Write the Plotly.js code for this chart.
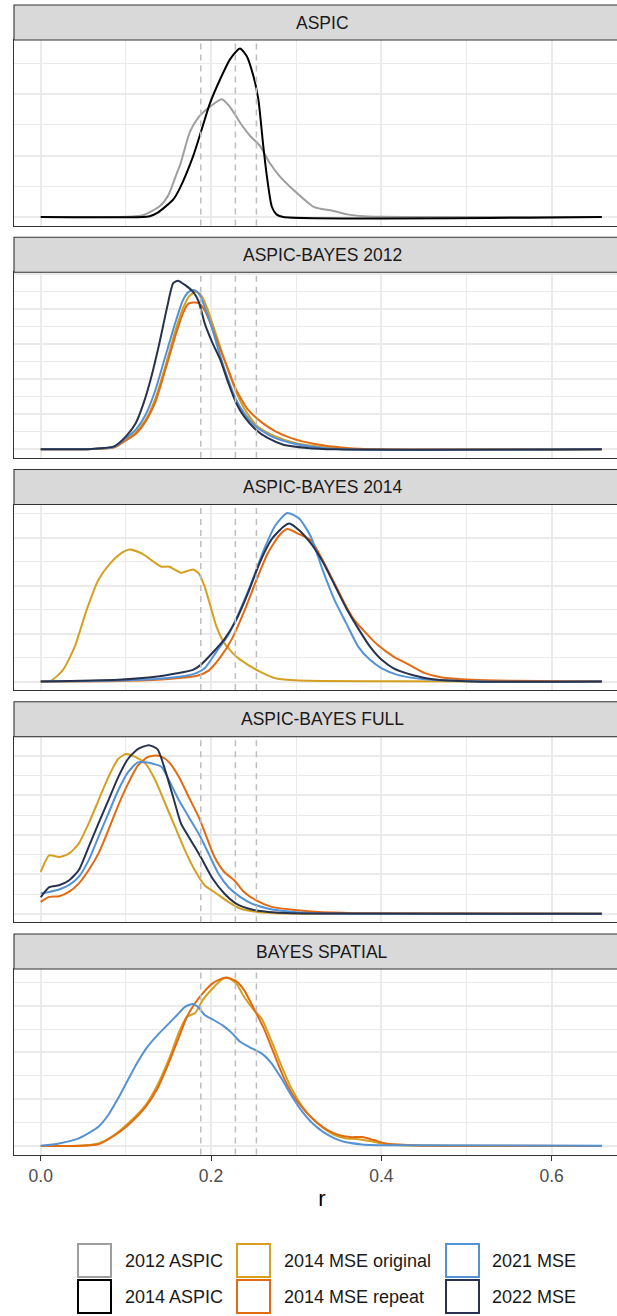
<!DOCTYPE html>
<html><head><meta charset="utf-8">
<script src="https://cdn.plot.ly/plotly-3.0.1.min.js"></script>
<style>html,body{margin:0;padding:0;overflow:hidden;background:#fff}#chart{width:640px;height:1316px}</style>
</head><body><div id="chart"></div>
<script>
// ---------- data ----------
const PANELS = ['ASPIC', 'ASPIC-BAYES 2012', 'ASPIC-BAYES 2014', 'ASPIC-BAYES FULL', 'BAYES SPATIAL'];
const SERIES = ['2012 ASPIC', '2014 ASPIC', '2014 MSE original', '2014 MSE repeat', '2021 MSE', '2022 MSE'];
const COLORS = ['#9E9E9E', '#000000', '#D5A021', '#E26A12', '#5492D6', '#27324F'];
const REF_LINES = [0.188, 0.2286, 0.2533];
const X_TITLE = 'r';

// Panel 1: ASPIC
const P1_ASPIC2012_R = [0, 0.10, 0.12, 0.14, 0.15, 0.16, 0.164, 0.175, 0.185, 0.199, 0.2125, 0.222, 0.234, 0.246, 0.2575, 0.269, 0.281, 0.297, 0.31, 0.32, 0.33, 0.34, 0.35, 0.36, 0.38, 0.40, 0.45, 0.659];
const P1_ASPIC2012_D = [0, 0.02, 0.15, 0.9, 1.8, 3.6, 4.3, 6.9, 8.1, 9.0, 9.6, 9.0, 7.7, 6.6, 5.8, 4.4, 3.3, 2.2, 1.4, 0.85, 0.65, 0.55, 0.4, 0.22, 0.07, 0.02, 0, 0];
const P1_ASPIC2014_R = [0, 0.12, 0.128, 0.137, 0.1556, 0.1636, 0.179, 0.189, 0.199, 0.2106, 0.2223, 0.234, 0.242, 0.2497, 0.2556, 0.2614, 0.2661, 0.2713, 0.2772, 0.285, 0.659];
const P1_ASPIC2014_D = [0, 0, 0.07, 0.34, 1.43, 2.38, 4.96, 7.13, 9.31, 11.2, 12.84, 13.73, 13.1, 11.5, 9.58, 5.77, 3.06, 0.88, 0.2, 0, 0];

// Panel 2: ASPIC-BAYES 2012
const P2_ORIG_R = [0, 0.06, 0.0862, 0.1001, 0.1117, 0.1232, 0.1348, 0.1463, 0.1579, 0.1671, 0.1740, 0.1819, 0.1879, 0.1948, 0.2041, 0.2133, 0.2226, 0.2318, 0.2410, 0.2549, 0.2757, 0.2988, 0.3312, 0.3682, 0.659];
const P2_ORIG_D = [0, 0.02, 0.15, 0.69, 1.2, 2.1, 3.65, 5.9, 8.4, 10.04, 10.87, 11.22, 11.0, 10.16, 8.5, 6.84, 5.19, 3.77, 2.7, 1.63, 0.92, 0.45, 0.16, 0, 0];
const P2_REP_R = [0, 0.06, 0.0862, 0.1001, 0.1117, 0.1232, 0.1348, 0.1463, 0.1579, 0.1671, 0.1731, 0.1787, 0.1856, 0.1925, 0.2018, 0.2110, 0.2203, 0.2295, 0.2434, 0.2595, 0.2757, 0.2942, 0.3219, 0.3589, 0.3959, 0.659];
const P2_REP_D = [0, 0.02, 0.14, 0.64, 1.11, 1.99, 3.4, 5.66, 8.03, 9.69, 10.35, 10.44, 10.4, 9.9, 8.6, 7.08, 5.66, 4.24, 2.82, 1.92, 1.28, 0.8, 0.38, 0.1, 0, 0];
const P2_MSE2021_R = [0, 0.06, 0.0862, 0.1001, 0.1117, 0.1232, 0.1348, 0.1463, 0.1579, 0.1671, 0.1740, 0.1800, 0.1856, 0.1925, 0.2018, 0.2110, 0.2203, 0.2295, 0.2388, 0.2526, 0.2711, 0.2942, 0.3219, 0.3543, 0.659];
const P2_MSE2021_D = [0, 0.02, 0.18, 0.8, 1.4, 2.46, 4.24, 6.6, 8.98, 10.63, 11.22, 11.34, 11.1, 10.16, 8.5, 6.6, 4.95, 3.53, 2.58, 1.63, 0.92, 0.45, 0.16, 0, 0];
const P2_MSE2022_R = [0, 0.06, 0.0862, 0.1001, 0.1117, 0.1209, 0.1301, 0.1394, 0.1486, 0.1556, 0.1611, 0.1694, 0.1787, 0.1856, 0.1925, 0.2018, 0.2110, 0.2203, 0.2295, 0.2388, 0.2526, 0.2665, 0.2850, 0.3127, 0.3451, 0.659];
const P2_MSE2022_D = [0, 0.03, 0.21, 0.92, 1.87, 3.3, 5.2, 7.56, 10.16, 11.82, 12.0, 11.7, 11.22, 10.5, 8.98, 7.56, 6.37, 4.72, 3.3, 2.34, 1.4, 0.81, 0.33, 0.1, 0, 0];

// Panel 3: ASPIC-BAYES 2014
const P3_ORIG_R = [0, 0.0123, 0.0262, 0.0400, 0.0539, 0.0677, 0.0816, 0.0955, 0.1047, 0.1186, 0.1325, 0.1417, 0.1509, 0.1648, 0.1787, 0.1856, 0.1925, 0.1995, 0.2064, 0.2156, 0.2295, 0.2434, 0.2573, 0.2757, 0.3035, 0.4144, 0.659];
const P3_ORIG_D = [0, 0.05, 0.61, 1.82, 3.73, 5.29, 6.15, 6.71, 6.88, 6.67, 6.24, 5.98, 5.98, 5.67, 5.84, 5.63, 4.94, 3.9, 2.86, 2.0, 1.3, 0.87, 0.52, 0.17, 0.05, 0.02, 0];
const P3_REP_R = [0, 0.0909, 0.1463, 0.1833, 0.1972, 0.2110, 0.2249, 0.2388, 0.2526, 0.2665, 0.2803, 0.2896, 0.3035, 0.3173, 0.3312, 0.3451, 0.3589, 0.3682, 0.3820, 0.3959, 0.4144, 0.4329, 0.4513, 0.4698, 0.5068, 0.5530, 0.659];
const P3_REP_D = [0, 0.03, 0.12, 0.30, 0.57, 1.27, 2.25, 3.64, 5.2, 6.67, 7.62, 7.94, 7.68, 7.36, 6.32, 5.11, 3.9, 3.21, 2.52, 1.9, 1.3, 0.87, 0.44, 0.23, 0.09, 0.04, 0];
const P3_MSE2021_R = [0, 0.0909, 0.1463, 0.1740, 0.1833, 0.1925, 0.2064, 0.2203, 0.2342, 0.2480, 0.2619, 0.2757, 0.2896, 0.3035, 0.3173, 0.3312, 0.3451, 0.3589, 0.3728, 0.3867, 0.4005, 0.4190, 0.4513, 0.52, 0.659];
const P3_MSE2021_D = [0, 0.05, 0.17, 0.33, 0.45, 0.69, 1.56, 2.43, 3.73, 5.2, 6.84, 8.14, 8.78, 8.49, 7.54, 5.8, 4.24, 3.03, 1.82, 1.13, 0.69, 0.35, 0.12, 0, 0];
const P3_MSE2022_R = [0, 0.0909, 0.1371, 0.1602, 0.1787, 0.1879, 0.2018, 0.2156, 0.2295, 0.2434, 0.2573, 0.2711, 0.2850, 0.2919, 0.3035, 0.3173, 0.3312, 0.3451, 0.3589, 0.3728, 0.3867, 0.4005, 0.4144, 0.4375, 0.4606, 0.5068, 0.659];
const P3_MSE2022_D = [0, 0.09, 0.26, 0.43, 0.61, 0.87, 1.5, 2.2, 3.2, 4.6, 6.2, 7.4, 8.06, 8.23, 7.88, 7.19, 6.24, 5.03, 3.82, 2.77, 1.82, 1.13, 0.69, 0.33, 0.12, 0, 0];

// Panel 4: ASPIC-BAYES FULL
const P4_ORIG_R = [0, 0.0100, 0.0215, 0.0331, 0.0446, 0.0562, 0.0677, 0.0793, 0.0909, 0.1001, 0.1117, 0.1232, 0.1348, 0.1463, 0.1579, 0.1694, 0.1810, 0.1925, 0.2064, 0.2203, 0.2342, 0.2526, 0.2757, 0.35, 0.659];
const P4_ORIG_D = [2.12, 2.96, 2.88, 3.05, 3.56, 4.57, 5.74, 6.92, 7.85, 8.1, 7.94, 7.6, 6.75, 5.58, 4.39, 3.22, 2.21, 1.45, 1.03, 0.61, 0.27, 0.1, 0.03, 0, 0];
const P4_REP_R = [0, 0.0100, 0.0215, 0.0331, 0.0446, 0.0562, 0.0677, 0.0793, 0.0909, 0.1024, 0.1140, 0.1255, 0.1325, 0.1417, 0.1509, 0.1625, 0.1740, 0.1856, 0.1948, 0.2041, 0.2156, 0.2272, 0.2388, 0.2526, 0.2711, 0.2988, 0.3219, 0.3682, 0.659];
const P4_REP_D = [0.61, 0.86, 0.89, 1.11, 1.53, 2.21, 3.05, 4.23, 5.49, 6.59, 7.51, 7.94, 8.02, 7.97, 7.68, 6.92, 5.91, 4.9, 3.89, 2.88, 2.12, 1.7, 1.11, 0.69, 0.35, 0.19, 0.1, 0.03, 0];
const P4_MSE2021_R = [0, 0.0100, 0.0215, 0.0331, 0.0446, 0.0562, 0.0677, 0.0793, 0.0909, 0.1024, 0.1140, 0.1232, 0.1325, 0.1417, 0.1509, 0.1625, 0.1740, 0.1856, 0.1972, 0.2087, 0.2203, 0.2342, 0.2480, 0.2665, 0.2942, 0.3219, 0.659];
const P4_MSE2021_D = [1.03, 1.11, 1.23, 1.45, 1.87, 2.71, 3.89, 5.07, 6.25, 7.17, 7.68, 7.68, 7.6, 7.46, 6.75, 5.74, 4.9, 4.06, 3.05, 2.04, 1.36, 0.86, 0.52, 0.27, 0.1, 0.03, 0];
const P4_MSE2022_R = [0, 0.0100, 0.0215, 0.0331, 0.0446, 0.0562, 0.0677, 0.0793, 0.0909, 0.1024, 0.1140, 0.1269, 0.1371, 0.1463, 0.1556, 0.1648, 0.1764, 0.1879, 0.2018, 0.2156, 0.2295, 0.2480, 0.2757, 0.33, 0.659];
const P4_MSE2022_D = [0.84, 1.35, 1.45, 1.69, 2.21, 3.38, 4.57, 5.74, 6.92, 7.85, 8.35, 8.55, 8.35, 7.26, 5.91, 4.57, 3.72, 2.88, 1.79, 1.03, 0.52, 0.22, 0.07, 0.01, 0];

// Panel 5: BAYES SPATIAL
const P5_ORIG_R = [0, 0.0446, 0.0677, 0.0862, 0.1047, 0.1232, 0.1371, 0.1509, 0.1625, 0.1717, 0.1810, 0.1902, 0.2018, 0.2133, 0.2203, 0.2295, 0.2388, 0.2503, 0.2596, 0.2711, 0.2826, 0.2942, 0.3058, 0.3173, 0.3312, 0.3451, 0.3589, 0.3728, 0.3867, 0.4005, 0.4236, 0.659];
const P5_ORIG_D = [0, 0.02, 0.14, 0.59, 1.3, 2.19, 3.26, 4.68, 6.1, 6.91, 7.09, 7.8, 8.42, 8.92, 8.99, 8.69, 7.98, 7.27, 6.8, 5.6, 4.3, 3.1, 2.2, 1.55, 1.0, 0.59, 0.41, 0.37, 0.27, 0.14, 0.05, 0];
const P5_REP_R = [0, 0.0677, 0.0862, 0.1047, 0.1232, 0.1371, 0.1509, 0.1625, 0.1717, 0.1810, 0.1902, 0.2018, 0.2133, 0.2179, 0.2295, 0.2388, 0.2503, 0.2619, 0.2734, 0.2850, 0.2965, 0.3081, 0.3219, 0.3358, 0.3497, 0.3636, 0.3774, 0.3913, 0.4051, 0.4375, 0.5068, 0.659];
const P5_REP_D = [0, 0.1, 0.55, 1.21, 2.1, 3.08, 4.5, 5.84, 6.91, 7.62, 8.16, 8.69, 8.96, 9.01, 8.81, 8.33, 7.35, 6.3, 5.0, 3.7, 2.7, 2.0, 1.35, 0.88, 0.6, 0.48, 0.48, 0.32, 0.14, 0.05, 0.02, 0];
const P5_MSE2021_R = [0, 0.0215, 0.0446, 0.0677, 0.0793, 0.0909, 0.1024, 0.1140, 0.1255, 0.1371, 0.1486, 0.1602, 0.1694, 0.1787, 0.1856, 0.1925, 0.2018, 0.2133, 0.2249, 0.2342, 0.2480, 0.2595, 0.2711, 0.2826, 0.2942, 0.3058, 0.3173, 0.3312, 0.3451, 0.3589, 0.3774, 0.4144, 0.659];
const P5_MSE2021_D = [0.02, 0.14, 0.41, 1.03, 1.66, 2.55, 3.53, 4.5, 5.31, 5.93, 6.46, 7.0, 7.44, 7.59, 7.39, 7.0, 6.77, 6.46, 6.02, 5.57, 5.22, 4.95, 4.42, 3.62, 2.72, 1.92, 1.3, 0.77, 0.41, 0.2, 0.09, 0.04, 0.02];

// which series (index into SERIES) appear in each panel, with their arrays
const PANEL_SERIES = [
  [[0, P1_ASPIC2012_R, P1_ASPIC2012_D], [1, P1_ASPIC2014_R, P1_ASPIC2014_D]],
  [[2, P2_ORIG_R, P2_ORIG_D], [3, P2_REP_R, P2_REP_D], [4, P2_MSE2021_R, P2_MSE2021_D], [5, P2_MSE2022_R, P2_MSE2022_D]],
  [[2, P3_ORIG_R, P3_ORIG_D], [3, P3_REP_R, P3_REP_D], [4, P3_MSE2021_R, P3_MSE2021_D], [5, P3_MSE2022_R, P3_MSE2022_D]],
  [[2, P4_ORIG_R, P4_ORIG_D], [3, P4_REP_R, P4_REP_D], [4, P4_MSE2021_R, P4_MSE2021_D], [5, P4_MSE2022_R, P4_MSE2022_D]],
  [[2, P5_ORIG_R, P5_ORIG_D], [3, P5_REP_R, P5_REP_D], [4, P5_MSE2021_R, P5_MSE2021_D]]
];
// ---------- layout constants (styling, not data) ----------
const Y_DTICK = [5, 2.5, 2.5, 2, 2.5];
const W = 640, H = 1316, ML = 14, MR = 10;
const PW = W - ML - MR;
const FONT = 'Liberation Sans, Arial, Helvetica, sans-serif';
const X_RANGE = [-0.0314, 0.6921];
const GRID = '#EBEBEB';

function py(p) { return (H - p) / H; }
function px(p) { return (p - ML) / PW; }

const traces = [];
const layout = {
  width: W, height: H,
  margin: {l: ML, r: MR, t: 0, b: 0},
  paper_bgcolor: '#fff', plot_bgcolor: '#fff',
  showlegend: false,
  font: {family: FONT, color: '#1A1A1A'},
  shapes: [], annotations: []
};

PANELS.forEach((title, i) => {
  const sfx = i === 0 ? '' : String(i + 1);
  const xa = 'x' + sfx, ya = 'y' + sfx;
  const top = 5 + 232.25 * i, stripB = top + 35, bot = top + 220.5;
  let ymax = 0;
  PANEL_SERIES[i].forEach(([s, R, D]) => {
    ymax = Math.max(ymax, ...D);
    traces.push({
      type: 'scatter', mode: 'lines', x: R, y: D, xaxis: xa, yaxis: ya,
      name: SERIES[s], line: {color: COLORS[s], width: 2, shape: 'spline', smoothing: 0.6},
      hovertemplate: SERIES[s] + '<br>r=%{x}<br>density=%{y}<extra>' + title + '</extra>'
    });
  });
  const last = i === PANELS.length - 1;
  layout['xaxis' + sfx] = {
    domain: [0, 1], anchor: ya, range: X_RANGE, tickmode: 'linear', tick0: 0, dtick: 0.2,
    tickformat: '.1f', showticklabels: last, ticks: last ? 'outside' : '', ticklen: 5, tickwidth: 1.1, tickcolor: '#333333',
    tickfont: {size: 17.5, color: '#4D4D4D', family: FONT},
    showgrid: true, gridcolor: GRID, gridwidth: 1.6,
    minor: {dtick: 0.1, tick0: 0, showgrid: true, gridcolor: GRID, gridwidth: 1.2},
    showline: true, mirror: true, linecolor: '#333333', linewidth: 1.1, zeroline: false,
    title: last ? {text: X_TITLE, font: {size: 22, color: '#000', family: FONT}, standoff: 6} : undefined
  };
  if (i > 0) layout['xaxis' + sfx].matches = 'x';
  const yd = Y_DTICK[i];
  layout['yaxis' + sfx] = {
    domain: [py(bot), py(stripB)], anchor: xa, range: [-0.05 * ymax, 1.05 * ymax],
    tickmode: 'linear', tick0: 0, dtick: yd, showticklabels: false, ticks: '',
    showgrid: true, gridcolor: GRID, gridwidth: 1.6,
    minor: {dtick: yd / 2, tick0: 0, showgrid: true, gridcolor: GRID, gridwidth: 1.2},
    showline: true, mirror: true, linecolor: '#333333', linewidth: 1.1, zeroline: false
  };
  REF_LINES.forEach(v => layout.shapes.push({
    type: 'line', xref: xa, yref: ya + ' domain', x0: v, x1: v, y0: 0, y1: 1, layer: 'above',
    line: {color: '#BEBEBE', width: 1.5, dash: '6px,5px'}
  }));
  layout.shapes.push({
    type: 'rect', xref: 'paper', yref: 'paper', x0: 0, x1: 1, y0: py(stripB), y1: py(top),
    fillcolor: '#D9D9D9', line: {color: '#333333', width: 1.1}, layer: 'above'
  });
  layout.annotations.push({
    xref: 'paper', yref: 'paper', x: 0.5, y: py(top + 17.5), xanchor: 'center', yanchor: 'middle',
    text: title, showarrow: false, font: {size: 17.5, color: '#1A1A1A', family: FONT}
  });
});

// manual legend: 3 columns x 2 rows, column-major like ggplot
const LEG_KEY_X = [78, 237, 446], LEG_TXT_X = [123, 282, 490], LEG_ROW_Y = [1244, 1280], KEY = 33;
SERIES.forEach((name, s) => {
  const c = Math.floor(s / 2), r = s % 2;
  layout.shapes.push({
    type: 'rect', xref: 'paper', yref: 'paper',
    x0: px(LEG_KEY_X[c]), x1: px(LEG_KEY_X[c] + KEY), y0: py(LEG_ROW_Y[r] + KEY), y1: py(LEG_ROW_Y[r]),
    fillcolor: '#FFFFFF', line: {color: COLORS[s], width: 2}
  });
  layout.annotations.push({
    xref: 'paper', yref: 'paper', x: px(LEG_TXT_X[c]), y: py(LEG_ROW_Y[r] + KEY / 2),
    xanchor: 'left', yanchor: 'middle', text: name, showarrow: false,
    font: {size: 18, color: '#1A1A1A', family: FONT}
  });
});

Plotly.newPlot('chart', traces, layout, {displayModeBar: false, responsive: false});
</script></body></html>
